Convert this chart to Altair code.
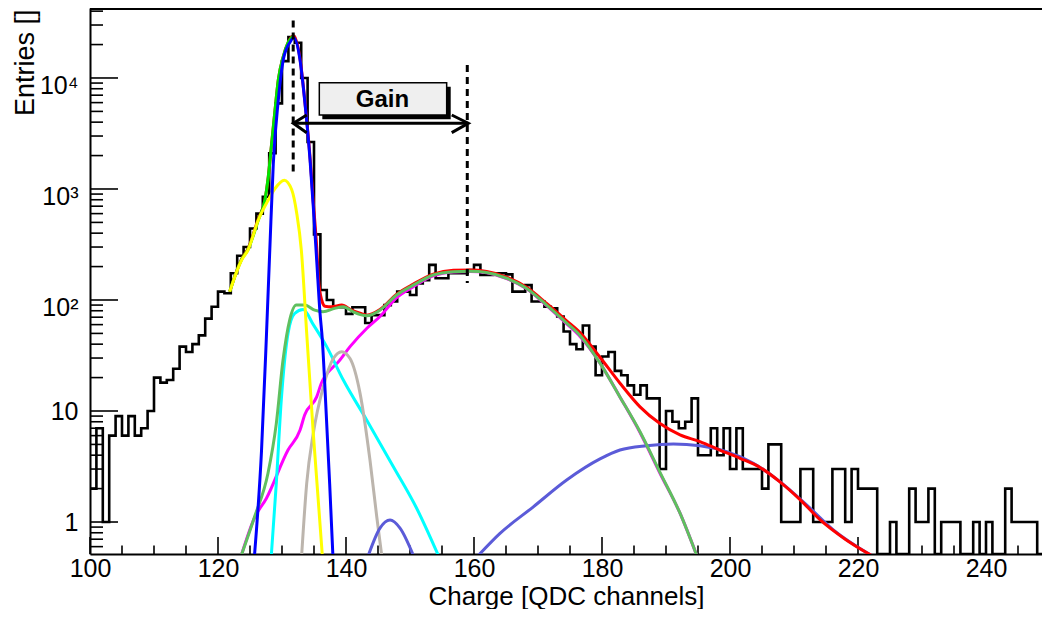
import altair as alt
import pandas as pd

# ---------------- histogram (1 channel per bin, left edges) ----------------
channels = list(range(100, 250))
counts = [
    2, 7, 1, 6, 9, 6, 9, 6, 7, 10,            # 100-109
    20, 18, 19, 24, 38, 34, 40, 48, 68, 87,    # 110-119
    119, 115, 174, 250, 300, 440, 600, 850, 2100, 5900,   # 120-129
    14200, 23400, 20800, 10000, 2650, 390, 123, 100, 86, 86,  # 130-139
    75, 86, 86, 62, 73, 73, 90, 97, 119, 119,  # 140-149
    111, 141, 151, 207, 157, 157, 174, 174, 174, 186,  # 150-159
    207, 168, 168, 174, 174, 170, 119, 119, 136, 97,   # 160-169
    97, 87, 84, 71, 52, 40, 36, 59, 38, 21,    # 170-179
    31, 34, 23, 21, 17, 14, 17, 13, 13, 3,     # 180-189
    10, 8, 7, 8, 13, 4, 4, 7, 4, 7,            # 190-199
    3, 7, 3, 3, 3, 2, 5, 5, 1, 1,              # 200-209
    1, 3, 3, 1, 1, 1, 3, 3, 1, 3,              # 210-219
    2, 2, 2, 0, 0, 1, 0, 0, 2, 1,              # 220-229
    1, 2, 0, 1, 1, 1, 0, 0, 1, 0,              # 230-239
    1, 0, 0, 2, 1, 1, 1, 1, 0, 0,              # 240-249
]
hist_end = 250

# ---------------- fit curves ----------------
red_x = [121.83, 123.7, 124.69, 126.3, 127.34, 127.86, 128.39, 128.91, 129.42, 130.2,
         130.98, 131.8, 132.81, 133.59, 134.38, 134.89, 135.42, 135.68, 136.2, 136.72,
         137.77, 139.33, 140.89, 142.19, 143.23, 145.31, 147.92, 150.52, 153.64, 156.77,
         159.38, 161.98, 165.1, 168.23, 171.35, 174.48, 176.56, 179.69, 182.81, 185.94,
         189.06, 192.19, 195.3, 198.4, 201.56, 204.7, 207.8, 210.9, 214.06, 218.0, 222.1]
red_y = [119, 235, 290, 540, 800, 1290, 2590, 5130, 9600, 15600,
         21000, 24000, 15000, 6000, 1930, 760, 300, 160, 100, 88,
         87, 90, 81, 76, 73, 82, 113, 139, 171, 185,
         186, 181, 161, 130, 93, 65, 51, 30.5, 17.8, 10.9,
         7.7, 6.1, 5.3, 4.45, 3.75, 3.1, 2.3, 1.6, 1.05, 0.7, 0.5]

bgreen_x = [121.83, 123.7, 124.69, 126.3, 127.34, 127.86, 128.39, 128.91, 129.42, 130.2,
            130.98, 131.77]
bgreen_y = [119, 232, 285, 526, 800, 1290, 2590, 5130, 9600, 15600, 21000, 24000]

lgreen_x = [123.64, 125.73, 127.81, 129.11, 130.16, 131.2, 132.23, 133.54, 135.1, 136.4,
            138.23, 139.58, 141.14, 143.23, 145.31, 147.92, 150.52, 153.64, 156.77, 159.38,
            161.98, 165.1, 168.23, 171.35, 174.48, 176.56, 179.69, 182.8, 185.94, 189.06,
            192.19, 194.8]
lgreen_y = [0.5, 1.12, 2.75, 7.7, 28.8, 66, 90, 90, 81, 78.5,
            84, 87, 78, 72, 81, 111, 136, 168, 180, 182,
            177, 157, 127, 90, 62, 48, 27, 13.4, 6.5, 2.8,
            1.2, 0.5]

blue_x = [125.7, 126.8, 127.55, 128.1, 128.64, 129.42, 130.2, 131.25, 131.85, 132.81,
          133.59, 134.38, 134.89, 135.42, 135.94, 136.3, 136.67, 137.45, 137.95]
blue_y = [0.5, 4.4, 45, 290, 1690, 6300, 14600, 21000, 23000, 14600,
          5900, 1830, 690, 229, 76, 44, 18, 2.2, 0.5]

yellow_x = [121.83, 123.7, 124.69, 126.3, 127.86, 128.91, 130.36, 131.52, 132.3, 133.02,
            133.86, 134.89, 136.3]
yellow_y = [119, 229, 282, 526, 797, 1010, 1200, 983, 605, 282,
            50, 6.3, 0.5]

cyan_x = [128.33, 129.11, 129.89, 130.94, 131.98, 133.3, 134.89, 136.98, 139.58, 143.23,
          147.4, 151.04, 154.43]
cyan_y = [0.5, 2.23, 12.6, 50, 75.6, 82, 60, 38, 19, 8.3,
          3.15, 1.33, 0.5]

mag_x = [123.64, 125.73, 127.55, 130.94, 132.81, 133.54, 135.42, 136.15, 138.02, 138.75,
         140.63, 143.23, 145.31, 147.92, 150.52, 153.64, 156.77, 159.38, 161.98, 165.1,
         168.23, 171.35, 174.48, 176.56, 179.69, 182.8, 185.94, 189.06, 192.19, 194.8]
mag_y = [0.5, 1.1, 1.63, 4.45, 6.7, 9.2, 13.4, 17.8, 25, 27.5,
         38, 55.4, 71, 105, 132, 165, 179, 181, 176, 156,
         126, 89, 61, 47, 27, 13.4, 6.4, 2.75, 1.2, 0.5]

gray_x = [133.07, 133.86, 134.89, 136.45, 138.02, 139.33, 140.63, 142.19, 143.75, 144.8, 145.58]
gray_y = [0.5, 2.23, 6.3, 16.5, 29.7, 34.2, 29.7, 14.5, 3.6, 1.12, 0.5]

spurple_x = [143.49, 145.31, 146.88, 148.44, 150.52]
spurple_y = [0.5, 0.88, 1.04, 0.88, 0.5]

bpurple_x = [160.68, 164.06, 169.27, 174.48, 179.69, 182.81, 186.98, 191.15, 195.31, 199.48,
             203.65, 207.8, 212.0, 216.14, 222.1]
bpurple_y = [0.5, 0.79, 1.37, 2.39, 3.7, 4.45, 4.87, 5.04, 4.87, 4.3,
             3.38, 2.31, 1.42, 0.85, 0.5]

# ---------------- annotations ----------------
dash_x = [131.75, 158.95]
dash_top = [33000, 13100]
dash_bottom = [1420, 142]

arrow_x1, arrow_x2, arrow_y = 131.77, 159.11, 3909
head_x = [133.86, 131.77, 133.86, 156.52, 159.11, 156.52]
head_y = [4640, 3909, 3216, 4640, 3909, 3216]
head_id = ["L", "L", "L", "R", "R", "R"]
head_order = [0, 1, 2, 0, 1, 2]

box_x = [135.83, 155.73]
box_y = [9070, 4640]
shadow_x = [136.3, 156.36]
shadow_y = [8350, 4245]
label_text = "Gain"
label_x, label_y = 145.7, 5510

# ---------------- axes ----------------
x_label_values = [100, 120, 140, 160, 180, 200, 220, 240]
xt_major = [100, 120, 140, 160, 180, 200, 220, 240]
xt_minor = [105, 110, 115, 125, 130, 135, 145, 150, 155, 165, 170, 175, 185, 190, 195,
            205, 210, 215, 225, 230, 235, 245]
ytick_values = [1, 10, 100, 1000, 10000]
ytick_labels = ["1", "10", "10\u00b2", "10\u00b3", "10\u2074"]
yt_major = [1, 10, 100, 1000, 10000]
yt_minor = [0.6, 0.7, 0.8, 0.9, 2, 3, 4, 5, 6, 7, 8, 9, 20, 30, 40, 50, 60, 70, 80, 90,
            200, 300, 400, 500, 600, 700, 800, 900, 2000, 3000, 4000, 5000, 6000, 7000,
            8000, 9000, 20000, 30000, 40000]

# the frame in the reference runs past the right edge of the picture: show 100 .. 248.75
X_MIN, X_MAX = 100, 248.75
Y_MIN, Y_MAX = 0.515, 42700
W, H = 952, 546
FONT = "Liberation Sans"

xscale = alt.Scale(domain=[X_MIN, X_MAX], nice=False, zero=False)
yscale = alt.Scale(type="log", domain=[Y_MIN, Y_MAX], nice=False)

label_expr = " : ".join(
    f"datum.value == {v} ? '{t}'" for v, t in zip(ytick_values, ytick_labels)
) + " : ''"

# histogram layer (carries the axes)
hist_df = pd.DataFrame({"x": channels + [hist_end], "y": counts + [counts[-1]]})
hist = alt.Chart(hist_df).transform_calculate(
    yp=f"max(datum.y, {Y_MIN})"
).mark_line(interpolate="step-after", color="black", strokeWidth=2.6, clip=True).encode(
    x=alt.X("x:Q", scale=xscale, title="Charge [QDC channels]", axis=alt.Axis(
        values=x_label_values, format="d", ticks=False, grid=False,
        domainColor="black", domainWidth=2, labelFontSize=25, labelColor="black",
        labelPadding=2, labelFlush=False, labelOverlap=False,
        titleFontSize=26, titleFontWeight="normal", titleColor="black",
        titleY=50, titleBaseline="alphabetic")),
    y=alt.Y("yp:Q", scale=yscale, title="Entries []", axis=alt.Axis(
        values=ytick_values, labelExpr=label_expr, ticks=False, grid=False,
        domainColor="black", domainWidth=2, labelFontSize=25, labelColor="black",
        labelPadding=12, labelOverlap=False,
        labelOffset={"condition": {"test": "datum.value >= 100", "value": 8}, "value": 0},
        titleFontSize=27, titleFontWeight="normal", titleColor="black",
        titleAngle=270, titleX=-57, titleY=1, titleAlign="right",
        titleBaseline="alphabetic")),
)


def curve(xs, ys, color, width=3.0):
    df = pd.DataFrame({"x": xs, "y": ys})
    return alt.Chart(df).mark_line(
        color=color, strokeWidth=width, interpolate="monotone", clip=True
    ).encode(
        x=alt.X("x:Q", scale=xscale),
        y=alt.Y("y:Q", scale=yscale),
    )


def xticks(vals, length):
    df = pd.DataFrame({"t": vals})
    return alt.Chart(df).mark_rule(color="black", strokeWidth=1.6).encode(
        x=alt.X("t:Q", scale=xscale),
        y=alt.value(H), y2=alt.value(H - length))


def yticks(vals, length):
    df = pd.DataFrame({"t": vals})
    return alt.Chart(df).mark_rule(color="black", strokeWidth=1.6).encode(
        y=alt.Y("t:Q", scale=yscale),
        x=alt.value(0), x2=alt.value(length))


dash_df = pd.DataFrame({"x": dash_x, "y1": dash_top, "y2": dash_bottom})
dashes = alt.Chart(dash_df).mark_rule(color="black", strokeWidth=3, strokeDash=[7, 5]).encode(
    x=alt.X("x:Q", scale=xscale),
    y=alt.Y("y1:Q", scale=yscale), y2="y2:Q")

shaft_df = pd.DataFrame({"x1": [arrow_x1], "x2": [arrow_x2], "y": [arrow_y]})
shaft = alt.Chart(shaft_df).mark_rule(color="black", strokeWidth=3).encode(
    x=alt.X("x1:Q", scale=xscale), x2="x2:Q",
    y=alt.Y("y:Q", scale=yscale))

heads_df = pd.DataFrame({"x": head_x, "y": head_y, "id": head_id, "o": head_order})
heads = alt.Chart(heads_df).mark_line(color="black", strokeWidth=3).encode(
    x=alt.X("x:Q", scale=xscale),
    y=alt.Y("y:Q", scale=yscale),
    detail="id:N", order="o:Q")

shadow_df = pd.DataFrame({"x1": [shadow_x[0]], "x2": [shadow_x[1]],
                          "y1": [shadow_y[0]], "y2": [shadow_y[1]]})
shadow = alt.Chart(shadow_df).mark_rect(color="black").encode(
    x=alt.X("x1:Q", scale=xscale), x2="x2:Q",
    y=alt.Y("y1:Q", scale=yscale), y2="y2:Q")

box_df = pd.DataFrame({"x1": [box_x[0]], "x2": [box_x[1]], "y1": [box_y[0]], "y2": [box_y[1]]})
box = alt.Chart(box_df).mark_rect(fill="#efefef", stroke="black", strokeWidth=1.5).encode(
    x=alt.X("x1:Q", scale=xscale), x2="x2:Q",
    y=alt.Y("y1:Q", scale=yscale), y2="y2:Q")

text_df = pd.DataFrame({"x": [label_x], "y": [label_y], "t": [label_text]})
text = alt.Chart(text_df).mark_text(
    font=FONT, fontSize=24, fontWeight="bold", color="black",
    align="center", baseline="alphabetic").encode(
    x=alt.X("x:Q", scale=xscale),
    y=alt.Y("y:Q", scale=yscale), text="t:N")

frame_top = alt.Chart(pd.DataFrame({"a": [0]})).mark_rule(color="black", strokeWidth=2).encode(
    x=alt.value(0), x2=alt.value(W), y=alt.value(1))

chart = alt.layer(
    hist,
    xticks(xt_major, 17), xticks(xt_minor, 8.5),
    yticks(yt_major, 28), yticks(yt_minor, 13),
    curve(mag_x, mag_y, "#ff00ff"),
    curve(cyan_x, cyan_y, "#00ffff"),
    curve(gray_x, gray_y, "#bcb5ad"),
    curve(spurple_x, spurple_y, "#5b5bd8"),
    curve(bpurple_x, bpurple_y, "#5b5bd8"),
    curve(red_x, red_y, "#ff0000"),
    curve(lgreen_x, lgreen_y, "#5fc05f"),
    curve(bgreen_x, bgreen_y, "#00e600"),
    curve(yellow_x, yellow_y, "#ffff00"),
    curve(blue_x, blue_y, "#0000ff"),
    dashes, shaft, heads, shadow, box, text, frame_top,
).properties(
    width=W, height=H,
    autosize=alt.AutoSizeParams(type="none"),
    padding={"left": 82, "top": 0, "right": 0, "bottom": 55},
).configure_view(stroke=None).configure_axis(
    labelFont=FONT, titleFont=FONT
).configure(font=FONT, background="white")

chart.save("out.html", embed_options={"renderer": "svg", "actions": False})
